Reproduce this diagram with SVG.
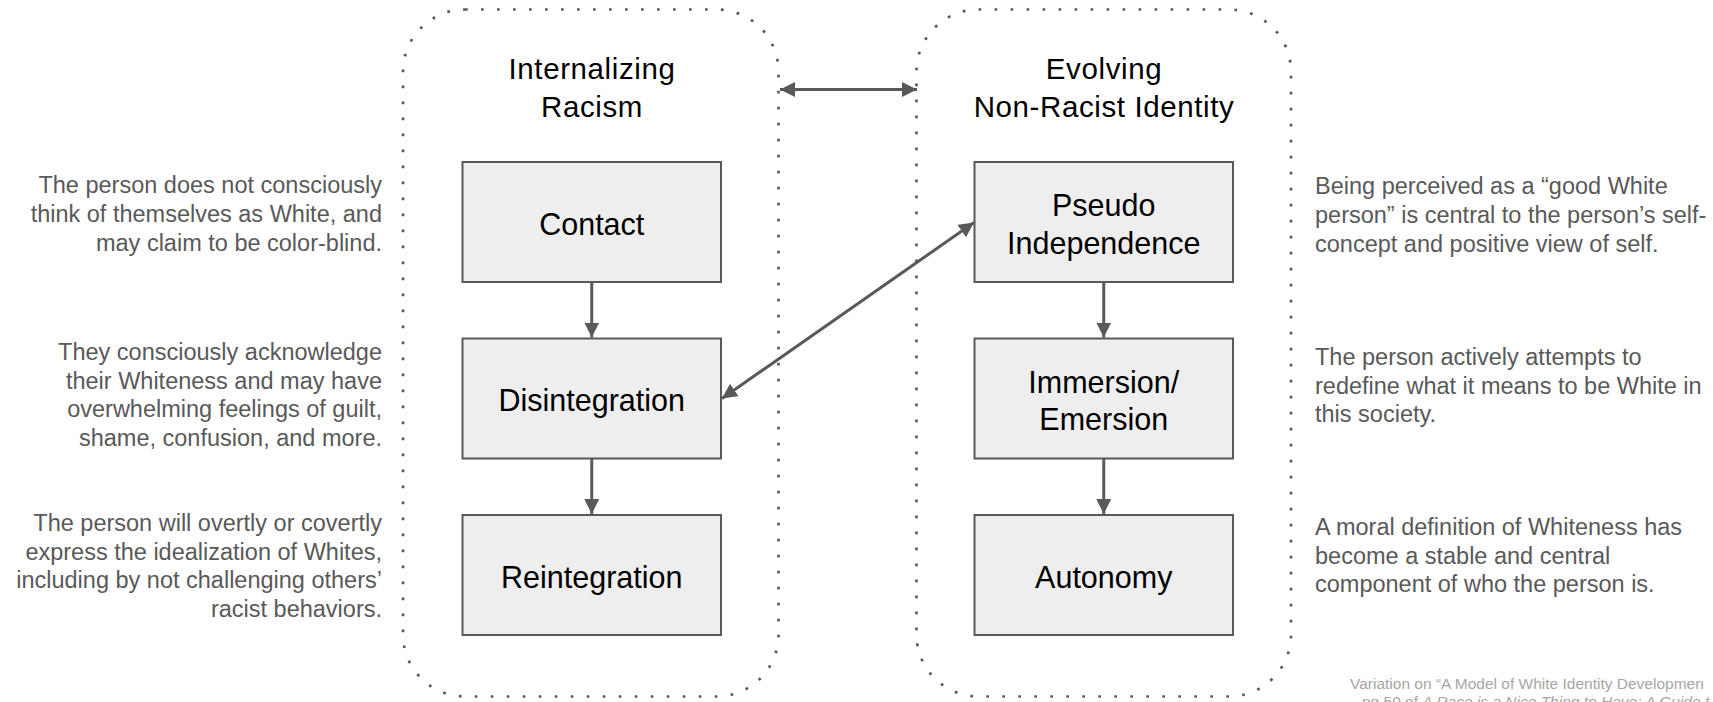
<svg xmlns="http://www.w3.org/2000/svg" width="1713" height="702" viewBox="0 0 1713 702">
<style>
  .container { fill: none; stroke: #595959; stroke-width: 2.7; stroke-dasharray: 2.7 13.3; }
  .box { fill: #eeeeee; stroke: #595959; stroke-width: 2; }
  .title { font-family: "Liberation Sans", Arial, sans-serif; font-size: 29.5px; letter-spacing: 0.6px; fill: #000000; text-anchor: middle; }
  .label { font-family: "Liberation Sans", Arial, sans-serif; font-size: 30.5px; fill: #000000; text-anchor: middle; }
  .descL { font-family: "Liberation Sans", Arial, sans-serif; font-size: 23.5px; fill: #595959; text-anchor: end; }
  .descR { font-family: "Liberation Sans", Arial, sans-serif; font-size: 23.5px; fill: #595959; text-anchor: start; }
  .caption { font-family: "Liberation Sans", Arial, sans-serif; font-size: 15.5px; fill: #a6a6a6; }
  .conn { fill: none; stroke: #595959; stroke-width: 3; }
</style>
<defs>
  <marker id="arrow" markerUnits="userSpaceOnUse" markerWidth="16" markerHeight="15" refX="15" refY="7.5" orient="auto-start-reverse" viewBox="0 0 16 15">
    <path d="M0,0 L15,7.5 L0,15 Z" fill="#595959"/>
  </marker>
</defs>

<g id="internalizing-racism">
  <rect class="container" x="403" y="9.5" width="375.5" height="687" rx="62" ry="62"/>
  <text class="title" x="592" y="79">Internalizing</text>
  <text class="title" x="592" y="116.5">Racism</text>
</g>

<g id="evolving-identity">
  <rect class="container" x="916.5" y="9.5" width="374.5" height="687" rx="62" ry="62"/>
  <text class="title" x="1104" y="79">Evolving</text>
  <text class="title" x="1104" y="116.5">Non-Racist Identity</text>
</g>

<g id="contact">
  <rect class="box" x="462.5" y="162" width="258.5" height="120"/>
  <text class="label" x="591.75" y="234.5">Contact</text>
</g>
<g id="disintegration">
  <rect class="box" x="462.5" y="338.5" width="258.5" height="120"/>
  <text class="label" x="591.75" y="411">Disintegration</text>
</g>
<g id="reintegration">
  <rect class="box" x="462.5" y="515" width="258.5" height="120"/>
  <text class="label" x="591.75" y="587.5">Reintegration</text>
</g>

<g id="pseudo-independence">
  <rect class="box" x="974.5" y="162" width="258.5" height="120"/>
  <text class="label" x="1103.75" y="216">Pseudo</text>
  <text class="label" x="1103.75" y="253.5">Independence</text>
</g>
<g id="immersion-emersion">
  <rect class="box" x="974.5" y="338.5" width="258.5" height="120"/>
  <text class="label" x="1103.75" y="392.5">Immersion/</text>
  <text class="label" x="1103.75" y="430">Emersion</text>
</g>
<g id="autonomy">
  <rect class="box" x="974.5" y="515" width="258.5" height="120"/>
  <text class="label" x="1103.75" y="587.5">Autonomy</text>
</g>

<g id="desc-contact">
  <text class="descL" x="382" y="193">The person does not consciously</text>
  <text class="descL" x="382" y="222">think of themselves as White, and</text>
  <text class="descL" x="382" y="251">may claim to be color-blind.</text>
</g>
<g id="desc-disintegration">
  <text class="descL" x="382" y="360">They consciously acknowledge</text>
  <text class="descL" x="382" y="388.7">their Whiteness and may have</text>
  <text class="descL" x="382" y="417.4">overwhelming feelings of guilt,</text>
  <text class="descL" x="382" y="446.1">shame, confusion, and more.</text>
</g>
<g id="desc-reintegration">
  <text class="descL" x="382" y="531">The person will overtly or covertly</text>
  <text class="descL" x="382" y="559.7">express the idealization of Whites,</text>
  <text class="descL" x="382" y="588.4">including by not challenging others’</text>
  <text class="descL" x="382" y="617.1">racist behaviors.</text>
</g>

<g id="desc-pseudo">
  <text class="descR" x="1315" y="194">Being perceived as a “good White</text>
  <text class="descR" x="1315" y="223">person” is central to the person’s self-</text>
  <text class="descR" x="1315" y="252">concept and positive view of self.</text>
</g>
<g id="desc-immersion">
  <text class="descR" x="1315" y="365">The person actively attempts to</text>
  <text class="descR" x="1315" y="393.7">redefine what it means to be White in</text>
  <text class="descR" x="1315" y="422.4">this society.</text>
</g>
<g id="desc-autonomy">
  <text class="descR" x="1315" y="535">A moral definition of Whiteness has</text>
  <text class="descR" x="1315" y="563.7">become a stable and central</text>
  <text class="descR" x="1315" y="592.4">component of who the person is.</text>
</g>

<g id="caption">
  <text class="caption" x="1350" y="688.5">Variation on “A Model of White Identity Developmen</text>
  <text class="caption" x="1362" y="707">pg 50 of <tspan font-style="italic">A Race is a Nice Thing to Have: A Guide t</tspan></text>
</g>

<g id="connectors">
  <line class="conn" x1="591.75" y1="282" x2="591.75" y2="337.5" marker-end="url(#arrow)"/>
  <line class="conn" x1="591.75" y1="458.5" x2="591.75" y2="514" marker-end="url(#arrow)"/>
  <line class="conn" x1="1103.75" y1="282" x2="1103.75" y2="337.5" marker-end="url(#arrow)"/>
  <line class="conn" x1="1103.75" y1="458.5" x2="1103.75" y2="514" marker-end="url(#arrow)"/>
  <line class="conn" x1="780" y1="89.5" x2="917" y2="89.5" marker-start="url(#arrow)" marker-end="url(#arrow)"/>
  <line class="conn" x1="722" y1="398.5" x2="974" y2="222.5" marker-start="url(#arrow)" marker-end="url(#arrow)"/>
</g>
</svg>
